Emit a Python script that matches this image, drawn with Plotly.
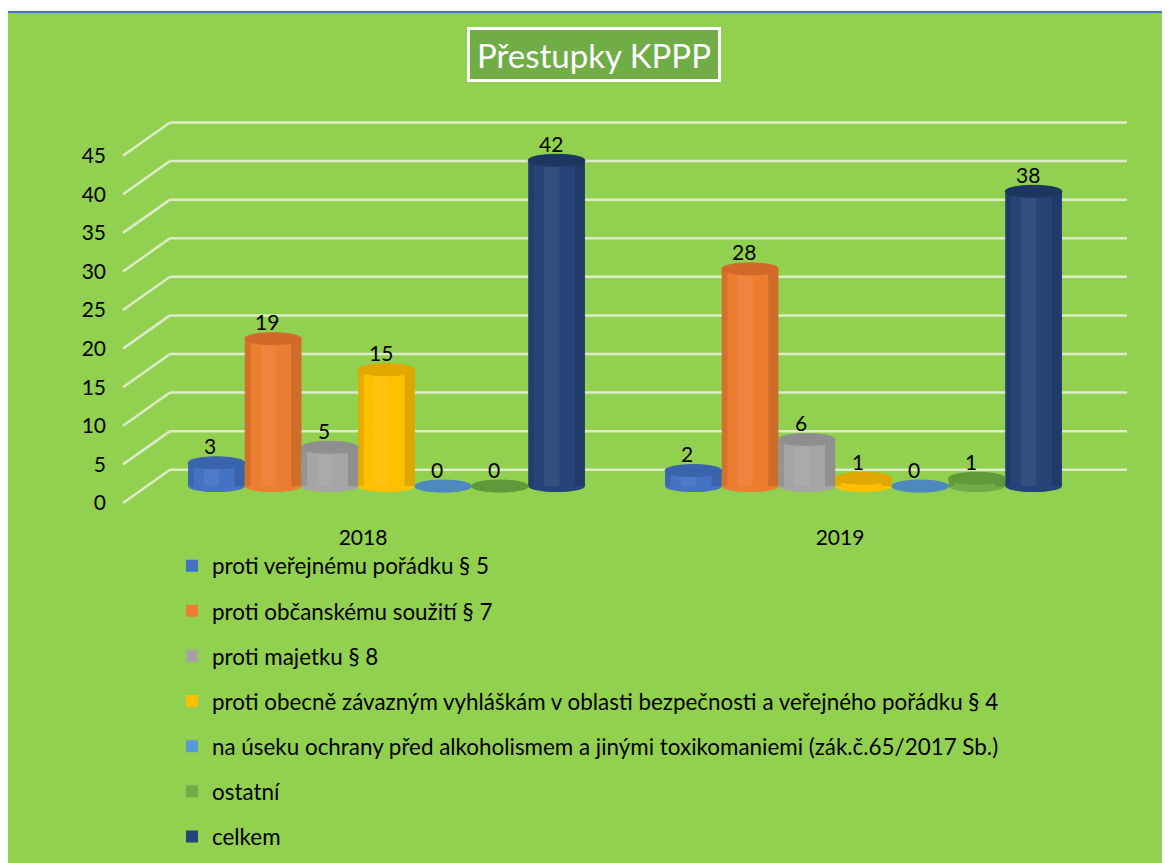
import plotly.graph_objects as go

# ---------------- data ----------------
years = ["2018", "2019"]
series_names = [
    "proti veřejnému pořádku § 5",
    "proti občanskému soužití § 7",
    "proti majetku § 8",
    "proti obecně závazným vyhláškám v oblasti bezpečnosti a veřejného pořádku § 4",
    "na úseku ochrany před alkoholismem a jinými toxikomaniemi (zák.č.65/2017 Sb.)",
    "ostatní",
    "celkem",
]
v_verejny = [3, 2]
v_obcansky = [19, 28]
v_majetek = [5, 6]
v_vyhlasky = [15, 1]
v_alkohol = [0, 0]
v_ostatni = [0, 1]
v_celkem = [42, 38]
y_ticks = [0, 5, 10, 15, 20, 25, 30, 35, 40, 45]
title_text = "Přestupky KPPP"

series_values = [v_verejny, v_obcansky, v_majetek, v_vyhlasky, v_alkohol, v_ostatni, v_celkem]
colors = ["#4472C4", "#ED7D31", "#A5A5A5", "#FFC000", "#5B9BD5", "#70AD47", "#264478"]
top_colors = ["#3A63AD", "#D2692A", "#8F8F8F", "#E0A800", "#4D88BF", "#5F9A3A", "#1D3660"]

# ---------------- layout constants (page pixels) ----------------
W, H = 1170, 863
PAGE_OFF = 8         # default body margin of the html page
FONT = "Lato"
UNIT = 7.78          # px per value unit (wall / labels)
BAR_UNIT = 7.82      # px per value unit (bars, front plane)
BAR0 = 490           # pixel y of value 0 for bars
GRID0 = 473.5        # pixel y of value 0 for back gridlines
LABEL0 = 507         # pixel y of value 0 for tick labels
PLOT_TOP, PLOT_BOT = 99, 511
CAT0, CAT_STEP = 386.5, 477
LABEL_SHIFT = 23.5   # category labels shifted left
BARGAP = 0.168
EH = 6               # half height of cylinder ellipses


def xp(px):
    return (px - PAGE_OFF) / W


def yp(py):
    return 1 - (py - PAGE_OFF) / H


def rng(zero_px, unit=UNIT):
    return [(zero_px - PLOT_BOT) / unit, (zero_px - PLOT_TOP) / unit]


fig = go.Figure()

n = len(series_names)
for name, vals, col in zip(series_names, series_values, colors):
    fig.add_trace(go.Bar(
        x=list(range(len(years))), y=vals, name=name, legendgroup=name,
        marker=dict(color=col, line=dict(width=0)),
        hovertemplate="%{y}<extra>" + name + "</extra>",
    ))

# carrier trace so the label axes (x2 / y3) are drawn
fig.add_trace(go.Scatter(x=list(range(len(years))), y=[None] * len(years),
                         xaxis="x2", yaxis="y3", mode="markers",
                         showlegend=False, hoverinfo="skip"))

shapes = []
annotations = []

# background frame
shapes.append(dict(type="rect", xref="paper", yref="paper", layer="below",
                   x0=xp(4), x1=xp(1168), y0=yp(12), y1=yp(900),
                   fillcolor="#92D050", line=dict(color="#4472C4", width=2)))

# 3D-looking gridlines (back wall + floor diagonals)
depth = (LABEL0 - GRID0) / UNIT
for v in y_ticks:
    shapes.append(dict(type="line", xref="paper", yref="y2", layer="below",
                       x0=xp(170), x1=xp(1127), y0=v, y1=v,
                       line=dict(color="#DDECC8", width=2.5)))
    shapes.append(dict(type="line", xref="paper", yref="y2", layer="below",
                       x0=xp(123), x1=xp(170), y0=v - depth, y1=v,
                       line=dict(color="#DDECC8", width=2.5)))

# cylinder shading, caps and value labels
w = (1 - BARGAP) / n
for i, (vals, col, tcol) in enumerate(zip(series_values, colors, top_colors)):
    for g, v in enumerate(vals):
        cx = g + (i - (n - 1) / 2) * w
        x0, x1 = cx - w / 2, cx + w / 2
        # rounded base
        shapes.append(dict(type="circle", xref="x", yref="y", layer="below",
                           ysizemode="pixel", yanchor=0, y0=-EH, y1=EH,
                           x0=x0, x1=x1, fillcolor=col, line=dict(width=0)))
        # soft edge shading for a cylindrical look
        if v > 0:
            shapes.append(dict(type="rect", xref="x", yref="y", layer="above",
                               x0=x0, x1=x0 + 0.10 * w, y0=0, y1=v,
                               fillcolor="rgba(0,0,0,0.10)", line=dict(width=0)))
            shapes.append(dict(type="rect", xref="x", yref="y", layer="above",
                               x0=x1 - 0.18 * w, x1=x1, y0=0, y1=v,
                               fillcolor="rgba(0,0,0,0.13)", line=dict(width=0)))
            shapes.append(dict(type="rect", xref="x", yref="y", layer="above",
                               x0=cx - 0.22 * w, x1=cx + 0.05 * w, y0=0, y1=v,
                               fillcolor="rgba(255,255,255,0.06)", line=dict(width=0)))
        # top cap
        shapes.append(dict(type="circle", xref="x", yref="y", layer="above",
                           ysizemode="pixel", yanchor=v, y0=-EH, y1=EH,
                           x0=x0, x1=x1, fillcolor=tcol, line=dict(color=tcol, width=1)))
        annotations.append(dict(x=cx, y=v, xref="x", yref="y", text=str(v),
                                showarrow=False, yanchor="middle", yshift=17, xshift=-6,
                                font=dict(family=FONT, size=21, color="#000000")))

# title box
annotations.append(dict(x=xp(594), y=yp(54.5), xref="paper", yref="paper",
                        text=title_text, showarrow=False,
                        xanchor="center", yanchor="middle",
                        width=242, height=43, borderpad=3,
                        bgcolor="#70AD47", bordercolor="#FFFFFF", borderwidth=3,
                        font=dict(family=FONT, size=33, color="#FFFFFF")))

x_dom = [xp(CAT0 - 0.5 * CAT_STEP), xp(CAT0 + 1.5 * CAT_STEP)]
y_dom = [yp(PLOT_BOT), yp(PLOT_TOP)]
shift = LABEL_SHIFT / CAT_STEP

fig.update_layout(
    width=W, height=H, autosize=False,
    margin=dict(l=0, r=0, t=0, b=0, pad=0),
    paper_bgcolor="#FFFFFF", plot_bgcolor="rgba(0,0,0,0)",
    font=dict(family=FONT, size=21, color="#000000"),
    barmode="group", bargap=BARGAP, bargroupgap=0,
    xaxis=dict(domain=x_dom, range=[-0.5, 1.5], visible=False, fixedrange=True),
    xaxis2=dict(overlaying="x", range=[-0.5 + shift, 1.5 + shift],
                tickvals=list(range(len(years))), ticktext=years,
                anchor="free", position=yp(527), side="bottom",
                showgrid=False, zeroline=False, showline=False, ticks="",
                tickfont=dict(family=FONT, size=21, color="#000000")),
    yaxis=dict(domain=y_dom, range=rng(BAR0, BAR_UNIT), visible=False, fixedrange=True),
    yaxis2=dict(overlaying="y", range=rng(GRID0), visible=False),
    yaxis3=dict(overlaying="y", range=rng(LABEL0), anchor="free", position=xp(106),
                side="left", tickvals=y_ticks, ticks="", showgrid=False,
                zeroline=False, showline=False,
                tickfont=dict(family=FONT, size=21, color="#000000")),
    legend=dict(x=xp(172), y=yp(549), xanchor="left", yanchor="top",
                orientation="v", traceorder="grouped", tracegroupgap=13,
                bgcolor="rgba(0,0,0,0)",
                font=dict(family=FONT, size=22.4, color="#000000")),
    shapes=shapes, annotations=annotations,
    showlegend=True,
)

fig.write_html("out.html")
